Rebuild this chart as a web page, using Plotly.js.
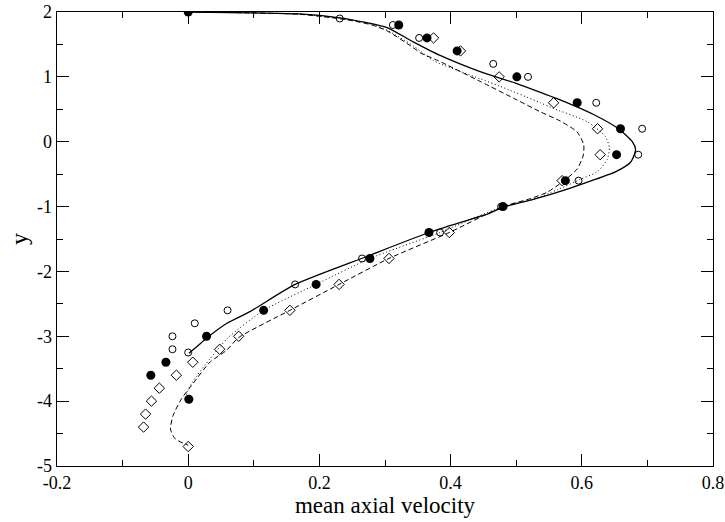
<!DOCTYPE html>
<html>
<head>
<meta charset="utf-8">
<script src="https://cdn.plot.ly/plotly-3.0.1.min.js"></script>
<style>html,body{margin:0;padding:0;background:#fff;}#chart{width:725px;height:522px;}</style>
</head>
<body>
<div id="chart"></div>
<script>
// Solid curve
var solidX = [0, 0.1, 0.17, 0.231, 0.27, 0.303, 0.343, 0.384, 0.445, 0.5, 0.537, 0.578, 0.618, 0.656, 0.677, 0.682, 0.68, 0.674, 0.652, 0.615, 0.578, 0.526, 0.48, 0.46, 0.367, 0.272, 0.163, 0.094, 0.059, 0.028, 0.013, 0.001];
var solidY = [2, 1.985, 1.97, 1.91, 1.84, 1.76, 1.54, 1.33, 1.08, 0.9, 0.76, 0.6, 0.42, 0.2, 0.0, -0.12, -0.2, -0.32, -0.46, -0.6, -0.73, -0.89, -1.01, -1.1, -1.4, -1.77, -2.2, -2.62, -2.8, -3.03, -3.16, -3.26];
// Dotted curve
var dottedX = [0, 0.1, 0.17, 0.24, 0.28, 0.303, 0.343, 0.374, 0.445, 0.474, 0.537, 0.552, 0.608, 0.636, 0.642, 0.639, 0.624, 0.598, 0.563, 0.526, 0.48, 0.43, 0.384, 0.277, 0.195, 0.115, 0.061, 0.033, 0.013, 0.002, -0.005];
var dottedY = [2, 1.985, 1.968, 1.895, 1.81, 1.72, 1.48, 1.25, 0.97, 0.86, 0.6, 0.53, 0.31, 0.08, -0.09, -0.27, -0.46, -0.58, -0.74, -0.89, -1.0, -1.2, -1.4, -1.8, -2.2, -2.6, -3.02, -3.35, -3.61, -3.78, -3.96];
// Dashed curve
var dashedX = [0, 0.1, 0.17, 0.242, 0.28, 0.303, 0.343, 0.354, 0.381, 0.445, 0.5, 0.537, 0.567, 0.593, 0.603, 0.602, 0.593, 0.572, 0.547, 0.521, 0.48, 0.398, 0.306, 0.23, 0.155, 0.077, 0.058, 0.033, 0.005, -0.01, -0.023, -0.027, -0.02, 0];
var dashedY = [2, 1.985, 1.965, 1.88, 1.8, 1.71, 1.45, 1.37, 1.25, 0.93, 0.65, 0.46, 0.32, 0.15, -0.05, -0.22, -0.42, -0.61, -0.78, -0.88, -1.0, -1.4, -1.8, -2.2, -2.6, -3.02, -3.22, -3.4, -3.76, -3.96, -4.22, -4.43, -4.58, -4.68];

// Filled circles
var filledX = [0.0, 0.321, 0.364, 0.41, 0.501, 0.593, 0.659, 0.653, 0.575, 0.48, 0.367, 0.277, 0.195, 0.115, 0.028, -0.034, -0.057, 0.001];
var filledY = [2.0, 1.8, 1.6, 1.4, 1.0, 0.6, 0.2, -0.2, -0.6, -1.0, -1.4, -1.8, -2.2, -2.6, -3.0, -3.4, -3.6, -3.97];
// Open circles
var openX = [0.231, 0.312, 0.352, 0.465, 0.518, 0.622, 0.692, 0.686, 0.595, 0.477, 0.384, 0.265, 0.163, 0.06, 0.01, -0.024, -0.024, 0.0];
var openY = [1.9, 1.8, 1.6, 1.2, 1.0, 0.6, 0.2, -0.2, -0.6, -1.0, -1.4, -1.8, -2.2, -2.6, -2.8, -3.0, -3.2, -3.25];
// Diamonds
var diamondX = [0.374, 0.415, 0.474, 0.557, 0.624, 0.628, 0.57, 0.398, 0.306, 0.23, 0.155, 0.077, 0.048, 0.007, -0.018, -0.044, -0.056, -0.065, -0.068, 0.0];
var diamondY = [1.6, 1.4, 1.0, 0.6, 0.2, -0.2, -0.6, -1.4, -1.8, -2.2, -2.6, -3.0, -3.2, -3.4, -3.6, -3.8, -4.0, -4.2, -4.4, -4.7];

// Tick labels
var xTickVals = [-0.2, 0, 0.2, 0.4, 0.6, 0.8];
var xTickText = ['-0.2', '0', '0.2', '0.4', '0.6', '0.8'];
var yTickVals = [-5, -4, -3, -2, -1, 0, 1, 2];
var yTickText = ['-5', '-4', '-3', '-2', '-1', '0', '1', '2'];

var SERIF = 'Liberation Serif';

var traces = [
  {x: solidX, y: solidY, mode: 'lines', line: {color: '#000', width: 1.3, shape: 'spline', smoothing: 0.6}, hoverinfo: 'skip'},
  {x: dottedX, y: dottedY, mode: 'lines', line: {color: '#000', width: 1, dash: '1px,2.5px', shape: 'spline', smoothing: 0.6}, hoverinfo: 'skip'},
  {x: dashedX, y: dashedY, mode: 'lines', line: {color: '#000', width: 1, dash: '5px,3px', shape: 'spline', smoothing: 0.6}, hoverinfo: 'skip'},
  {x: diamondX, y: diamondY, mode: 'markers', marker: {symbol: 'diamond-open', size: 8, color: '#000', line: {width: 1, color: '#000'}}},
  {x: openX, y: openY, mode: 'markers', marker: {symbol: 'circle-open', size: 7, color: '#000', line: {width: 1, color: '#000'}}},
  {x: filledX, y: filledY, mode: 'markers', marker: {symbol: 'circle', size: 9, color: '#000', line: {width: 0}}}
];

function axisBase() {
  return {
    showgrid: false, zeroline: false, showline: true, linecolor: '#000', linewidth: 1.3,
    mirror: 'allticks', ticks: 'inside', ticklen: 12, tickwidth: 1, tickcolor: '#000',
    tickmode: 'array',
    tickfont: {family: SERIF, size: 18, color: '#000'}
  };
}

var layout = {
  width: 725, height: 522,
  margin: {l: 57, r: 12, t: 12, b: 56},
  paper_bgcolor: '#fff', plot_bgcolor: '#fff',
  showlegend: false,
  font: {family: SERIF, color: '#000'},
  xaxis: Object.assign(axisBase(), {
    range: [-0.2, 0.8],
    tickvals: xTickVals, ticktext: xTickText,
    minor: {dtick: 0.1, tick0: -0.2, ticks: 'inside', ticklen: 6, tickwidth: 1, tickcolor: '#000', showgrid: false},
    title: {text: 'mean axial velocity', font: {family: SERIF, size: 23, color: '#000'}, standoff: 4}
  }),
  yaxis: Object.assign(axisBase(), {
    range: [-5, 2],
    tickvals: yTickVals, ticktext: yTickText,
    minor: {dtick: 0.5, tick0: -5, ticks: 'inside', ticklen: 6, tickwidth: 1, tickcolor: '#000', showgrid: false},
    title: {text: 'y', font: {family: SERIF, size: 24, color: '#000'}, standoff: 2}
  })
};

Plotly.newPlot('chart', traces, layout, {displayModeBar: false, staticPlot: true});
</script>
</body>
</html>
